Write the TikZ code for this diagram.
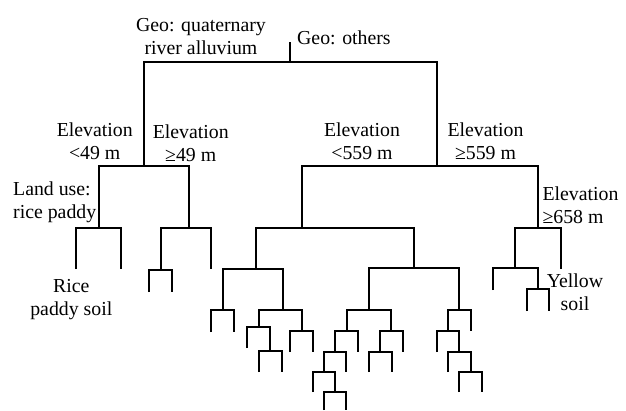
\documentclass[tikz,border=0pt]{standalone}
\usepackage{fontspec}
\setmainfont{Liberation Serif}
\tikzset{
    branch/.style={line width=1.8pt},
    lbl/.style={inner sep=0pt, align=center, anchor=north, font=\fontsize{19.8}{22.8}\selectfont}
}
\begin{document}
\begin{tikzpicture}[x=1pt, y=-1pt]
    \useasboundingbox (0,0) rectangle (626,410);

    % Tree: left end / right end / bar height / left leg end / right leg end
    \draw[branch] (290,42) -- (290,62); % root
    \foreach \xa/\xb/\yb/\ya/\yc in {
        144/437/62/166/166,
        99/189/166/228/228, 76/121/228/269/269,
        161/211/228/270/269, 149/172/270/292/292,
        302/538/166/228/228, 256/414/228/269/268,
        223/283/269/310/310, 211/234/310/332/332,
        259/302/310/327/331, 247/270/327/348/351,
        259/282/351/372/372, 290/313/331/352/352,
        369/459/268/310/310, 347/391/310/331/331,
        335/358/331/352/352, 324/346/352/372/372,
        313/335/372/392/392, 324/346/392/410/410,
        380/403/331/352/352, 369/392/352/372/372,
        448/471/310/331/331, 437/459/331/352/352,
        448/471/352/372/372, 459/482/372/392/392,
        515/561/228/268/269, 493/538/268/290/289,
        527/549/289/311/311} {
        \draw[branch] (\xa,\ya) |- (\xb,\yb) -- (\xb,\yc);
    }

    % Splits
    \node[lbl] (geoq) at (201,18) {Geo: quaternary\\river alluvium};
    \node[lbl, anchor=north west] (geoo) at (297,30.5) {Geo: others};
    \node[lbl] (elevlt49) at (94.7,123) {Elevation\\<49 m};
    \node[lbl] (elevge49) at (190.7,125) {Elevation\\≥49 m};
    \node[lbl] (elevlt559) at (362,122.5) {Elevation\\<559 m};
    \node[lbl] (elevge559) at (485.5,122.5) {Elevation\\≥559 m};
    \node[lbl, align=left, anchor=north west] (landuse) at (13,181.5) {Land use:\\rice paddy};
    \node[lbl, align=left, anchor=north west] (elevge658) at (542.3,186.7) {Elevation\\≥658 m};

    % Soils
    \node[lbl] (ricesoil) at (71.3,279.5) {Rice\\paddy soil};
    \node[lbl] (yellowsoil) at (575,273.3) {Yellow\\soil};
\end{tikzpicture}
\end{document}
